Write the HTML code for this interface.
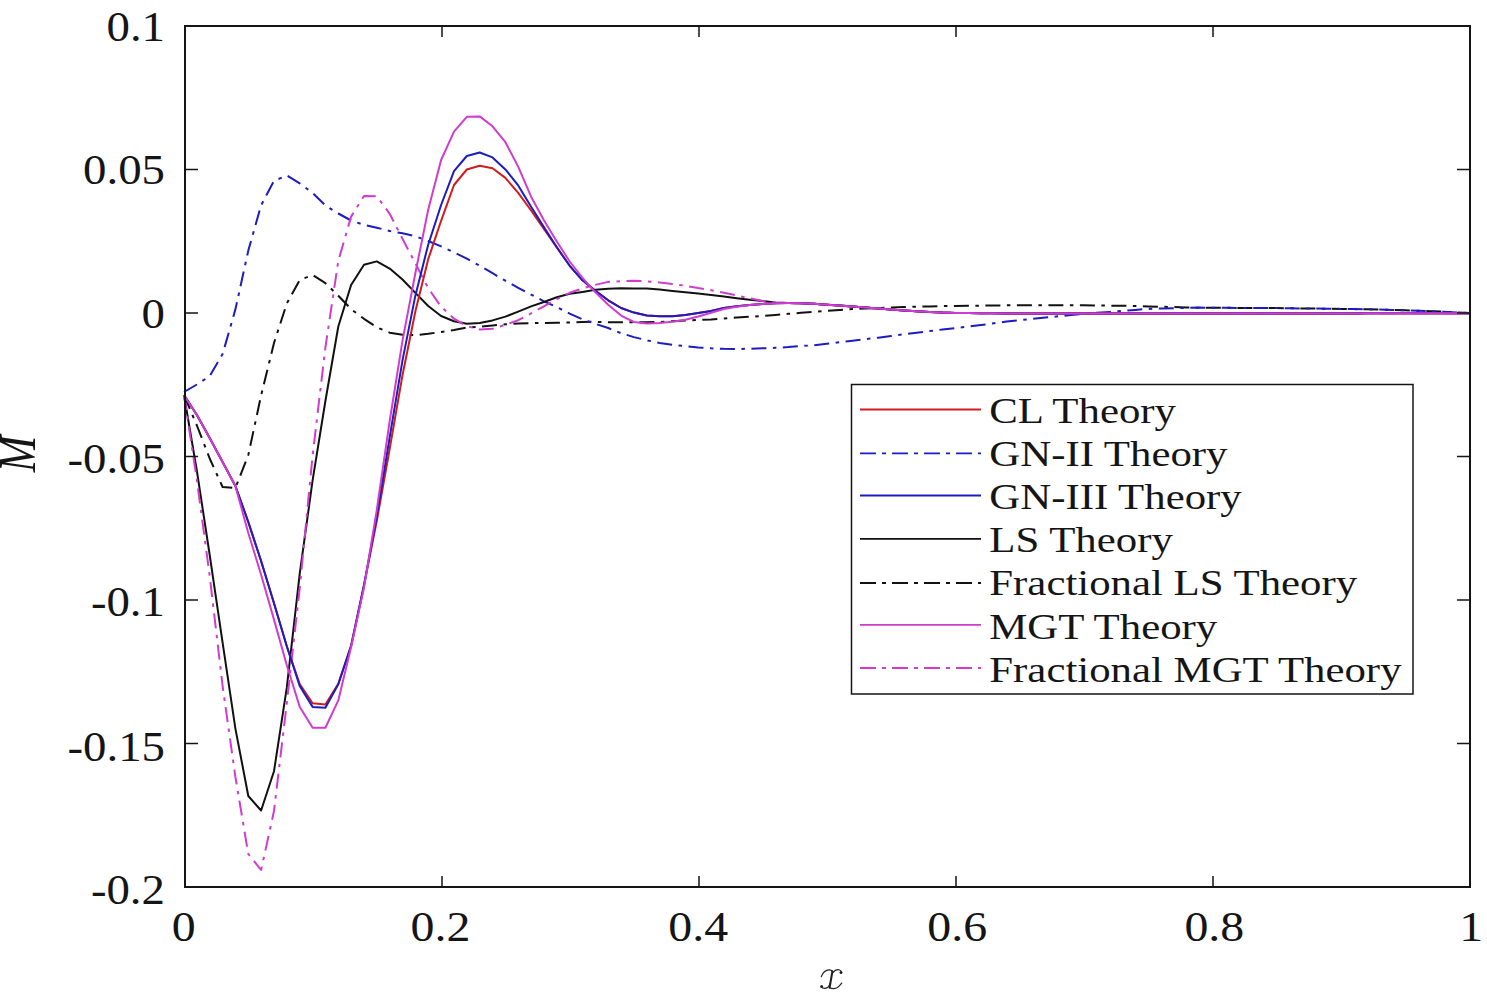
<!DOCTYPE html>
<html><head><meta charset="utf-8"><style>
html,body{margin:0;padding:0;background:#fff;width:1487px;height:996px;overflow:hidden}
svg{display:block}
text{font-family:"Liberation Serif",serif;fill:#151515}
</style></head><body>
<svg width="1487" height="996" viewBox="0 0 1487 996">
<g fill="none" stroke-width="2" stroke-linejoin="round" stroke-linecap="butt">
<path d="M184.0 395 196.9 425.5 209.7 458.5 222.6 487 235.4 488 248.3 455 261.1 395.5 274.0 343 286.8 303.5 299.7 280 312.6 275 325.4 283.1 338.3 295.7 351.1 309.1 364.0 318.8 376.8 327.3 389.7 332.7 402.5 334.7 415.4 335.2 428.2 333.8 441.1 331.9 454.0 330.1 466.8 327.6 479.7 326.7 492.5 325.5 505.4 324.3 518.2 323.6 531.1 323.2 543.9 322.9 556.8 322.7 569.7 322.4 582.5 322 595.4 321.8 608.2 322.3 621.1 322.3 633.9 322.3 646.8 322.3 659.6 322 672.5 321.2 685.3 320.5 698.2 320 711.1 319.5 723.9 318.5 736.8 317.4 749.6 316.8 762.5 316 775.3 314.9 788.2 313.8 801.0 312.8 813.9 311.9 826.8 310.9 839.6 309.9 852.5 309.1 865.3 308.6 878.2 308.1 891.0 307.6 903.9 307.1 916.7 306.7 929.6 306.4 942.4 306.1 955.3 305.9 968.2 305.8 981.0 305.6 993.9 305.5 1006.7 305.3 1019.6 305.3 1032.4 305.3 1045.3 305.3 1058.1 305.3 1071.0 305.3 1083.8 305.3 1096.7 305.5 1109.6 305.6 1122.4 305.8 1135.3 306 1148.1 306.4 1161.0 306.7 1173.8 307.1 1186.7 307.5 1199.5 307.7 1212.4 307.7 1225.3 307.8 1238.1 307.9 1251.0 308 1263.8 308.1 1276.7 308.1 1289.5 308.3 1302.4 308.4 1315.2 308.6 1328.1 308.8 1341.0 308.9 1353.8 309.1 1366.7 309.3 1379.5 309.5 1392.4 309.9 1405.2 310.3 1418.1 310.8 1430.9 311.2 1443.8 311.7 1456.6 312.4 1469.5 313" stroke="#111" stroke-dasharray="15 6.5 3.5 6.5"/>
<path d="M184.0 392 196.9 384.5 209.7 376.1 222.6 354.1 235.4 309.4 248.3 250.6 261.1 205.3 274.0 180.9 286.8 175.4 299.7 183.3 312.6 193 325.4 205.5 338.3 213.5 351.1 220.5 364.0 224.9 376.8 227.7 389.7 231 402.5 233.3 415.4 236.2 428.2 241 441.1 246.3 454.0 252.3 466.8 258.7 479.7 265.7 492.5 273.2 505.4 280.7 518.2 287.8 531.1 294.6 543.9 301.3 556.8 307.1 569.7 313.6 582.5 319.4 595.4 323.8 608.2 328 621.1 333.2 633.9 337.1 646.8 340.3 659.6 342.9 672.5 344.7 685.3 346.2 698.2 347.5 711.1 348.3 723.9 348.8 736.8 349 749.6 348.7 762.5 348.3 775.3 347.8 788.2 347.1 801.0 346.1 813.9 345.2 826.8 343.7 839.6 342.2 852.5 340.7 865.3 339.2 878.2 337.7 891.0 336 903.9 334.3 916.7 332.7 929.6 331.1 942.4 329.5 955.3 328.1 968.2 326.6 981.0 325 993.9 323.3 1006.7 321.5 1019.6 320.1 1032.4 318.9 1045.3 317.6 1058.1 316.3 1071.0 315 1083.8 313.8 1096.7 312.8 1109.6 311.9 1122.4 310.9 1135.3 309.9 1148.1 308.9 1161.0 308.5 1173.8 308.2 1186.7 307.9 1199.5 307.6 1212.4 307.7 1225.3 307.8 1238.1 307.9 1251.0 308 1263.8 308 1276.7 308.1 1289.5 308.3 1302.4 308.4 1315.2 308.6 1328.1 308.8 1341.0 308.9 1353.8 309.1 1366.7 309.3 1379.5 309.5 1392.4 309.9 1405.2 310.3 1418.1 310.8 1430.9 311.2 1443.8 311.7 1456.6 312.4 1469.5 313" stroke="#1c1cc0" stroke-dasharray="15 6.5 3.5 6.5"/>
<path d="M184.0 395 196.9 471 209.7 555 222.6 642.7 235.4 728.6 248.3 796 261.1 810.5 274.0 771.2 286.8 687.7 299.7 573.9 312.6 480.4 325.4 401 338.3 326.5 351.1 285 364.0 264.7 376.8 261.4 389.7 268.6 402.5 279.5 415.4 292.9 428.2 306 441.1 316 454.0 321.2 466.8 323.7 479.7 323.1 492.5 320.4 505.4 316.6 518.2 311.6 531.1 306.4 543.9 302 556.8 297.2 569.7 293.8 582.5 291.9 595.4 289.8 608.2 288.7 621.1 288.3 633.9 288.4 646.8 288.5 659.6 289.6 672.5 290.9 685.3 292.2 698.2 293.5 711.1 295.1 723.9 296.6 736.8 298.2 749.6 299.7 762.5 301.1 775.3 302.5 788.2 303.1 801.0 303.2 813.9 303.8 826.8 304.7 839.6 305.5 852.5 306.5 865.3 307.6 878.2 308.6 891.0 309.5 903.9 310.4 916.7 311.3 929.6 311.9 942.4 312.6 955.3 313 968.2 313.1 981.0 313.2 993.9 313.3 1006.7 313.4 1019.6 313.5 1032.4 313.5 1045.3 313.5 1058.1 313.5 1071.0 313.5 1083.8 313.5 1096.7 313.5 1109.6 313.5 1122.4 313.5 1135.3 313.5 1148.1 313.4 1161.0 313.4 1173.8 313.4 1186.7 313.4 1199.5 313.4 1212.4 313.4 1225.3 313.4 1238.1 313.4 1251.0 313.4 1263.8 313.4 1276.7 313.4 1289.5 313.4 1302.4 313.4 1315.2 313.4 1328.1 313.4 1341.0 313.4 1353.8 313.4 1366.7 313.3 1379.5 313.3 1392.4 313.3 1405.2 313.3 1418.1 313.3 1430.9 313.3 1443.8 313.3 1456.6 313.3 1469.5 313.3" stroke="#111"/>
<path d="M184.0 395 196.9 480 209.7 576 222.6 686 235.4 777 248.3 854 261.1 870 274.0 811 286.8 703 299.7 588.4 312.6 455.6 325.4 347.5 338.3 260.9 351.1 216.6 364.0 196 376.8 196.2 389.7 213.8 402.5 238.8 415.4 263.4 428.2 288.1 441.1 306.7 454.0 318.7 466.8 326.2 479.7 329.4 492.5 328.7 505.4 324.8 518.2 320.2 531.1 313.4 543.9 306.3 556.8 299.2 569.7 292.8 582.5 288.4 595.4 284.9 608.2 281.9 621.1 281.2 633.9 280.7 646.8 281.3 659.6 282.4 672.5 284 685.3 285.7 698.2 288.1 711.1 290.2 723.9 292.8 736.8 295.5 749.6 298.3 762.5 301 775.3 302.5 788.2 303.1 801.0 303.2 813.9 303.8 826.8 304.7 839.6 305.5 852.5 306.5 865.3 307.6 878.2 308.6 891.0 309.5 903.9 310.4 916.7 311.3 929.6 311.9 942.4 312.6 955.3 313 968.2 313.1 981.0 313.2 993.9 313.3 1006.7 313.4 1019.6 313.5 1032.4 313.5 1045.3 313.5 1058.1 313.5 1071.0 313.5 1083.8 313.5 1096.7 313.5 1109.6 313.5 1122.4 313.5 1135.3 313.5 1148.1 313.4 1161.0 313.4 1173.8 313.4 1186.7 313.4 1199.5 313.4 1212.4 313.4 1225.3 313.4 1238.1 313.4 1251.0 313.4 1263.8 313.4 1276.7 313.4 1289.5 313.4 1302.4 313.4 1315.2 313.4 1328.1 313.4 1341.0 313.4 1353.8 313.4 1366.7 313.3 1379.5 313.3 1392.4 313.3 1405.2 313.3 1418.1 313.3 1430.9 313.3 1443.8 313.3 1456.6 313.3 1469.5 313.3" stroke="#d03cd0" stroke-dasharray="15 6.5 3.5 6.5"/>
<path d="M184.0 395 196.9 415 209.7 438 222.6 462 235.4 486 248.3 522 261.1 561 274.0 603.2 286.8 646.2 299.7 684 312.6 703.3 325.4 704.5 338.3 683.8 351.1 645.7 364.0 585.2 376.8 520.8 389.7 448.7 402.5 375.2 415.4 311.2 428.2 259.3 441.1 220.8 454.0 185 466.8 169.5 479.7 165.7 492.5 168.2 505.4 177.9 518.2 192.9 531.1 210.5 543.9 229 556.8 247.3 569.7 265.8 582.5 280.3 595.4 290.8 608.2 300.3 621.1 308 633.9 312.6 646.8 315.4 659.6 316.3 672.5 316.3 685.3 315 698.2 313.1 711.1 311 723.9 308 736.8 306.2 749.6 305 762.5 303.9 775.3 303.2 788.2 303.1 801.0 303.2 813.9 303.8 826.8 304.7 839.6 305.5 852.5 306.5 865.3 307.6 878.2 308.6 891.0 309.5 903.9 310.4 916.7 311.3 929.6 311.9 942.4 312.6 955.3 313 968.2 313.1 981.0 313.2 993.9 313.3 1006.7 313.4 1019.6 313.5 1032.4 313.5 1045.3 313.5 1058.1 313.5 1071.0 313.5 1083.8 313.5 1096.7 313.5 1109.6 313.5 1122.4 313.5 1135.3 313.5 1148.1 313.4 1161.0 313.4 1173.8 313.4 1186.7 313.4 1199.5 313.4 1212.4 313.4 1225.3 313.4 1238.1 313.4 1251.0 313.4 1263.8 313.4 1276.7 313.4 1289.5 313.4 1302.4 313.4 1315.2 313.4 1328.1 313.4 1341.0 313.4 1353.8 313.4 1366.7 313.3 1379.5 313.3 1392.4 313.3 1405.2 313.3 1418.1 313.3 1430.9 313.3 1443.8 313.3 1456.6 313.3 1469.5 313.3" stroke="#d01c1c"/>
<path d="M184.0 395 196.9 415 209.7 438 222.6 462 235.4 486 248.3 522 261.1 561 274.0 603.2 286.8 646.2 299.7 686 312.6 706.9 325.4 707.7 338.3 684.3 351.1 645.7 364.0 585.2 376.8 516.2 389.7 437.2 402.5 360.4 415.4 295.4 428.2 244.7 441.1 205 454.0 171.2 466.8 156 479.7 152.5 492.5 157.4 505.4 169.4 518.2 185.4 531.1 206.8 543.9 227.1 556.8 247.3 569.7 265.8 582.5 280.3 595.4 290.8 608.2 300.3 621.1 308 633.9 312.6 646.8 315.4 659.6 316.3 672.5 316.3 685.3 315 698.2 313.1 711.1 311 723.9 308 736.8 306.2 749.6 305 762.5 303.9 775.3 303.2 788.2 303.1 801.0 303.2 813.9 303.8 826.8 304.7 839.6 305.5 852.5 306.5 865.3 307.6 878.2 308.6 891.0 309.5 903.9 310.4 916.7 311.3 929.6 311.9 942.4 312.6 955.3 313 968.2 313.1 981.0 313.2 993.9 313.3 1006.7 313.4 1019.6 313.5 1032.4 313.5 1045.3 313.5 1058.1 313.5 1071.0 313.5 1083.8 313.5 1096.7 313.5 1109.6 313.5 1122.4 313.5 1135.3 313.5 1148.1 313.4 1161.0 313.4 1173.8 313.4 1186.7 313.4 1199.5 313.4 1212.4 313.4 1225.3 313.4 1238.1 313.4 1251.0 313.4 1263.8 313.4 1276.7 313.4 1289.5 313.4 1302.4 313.4 1315.2 313.4 1328.1 313.4 1341.0 313.4 1353.8 313.4 1366.7 313.3 1379.5 313.3 1392.4 313.3 1405.2 313.3 1418.1 313.3 1430.9 313.3 1443.8 313.3 1456.6 313.3 1469.5 313.3" stroke="#1c1cc0"/>
<path d="M184.0 395 196.9 415 209.7 438 222.6 462 235.4 486 248.3 533 261.1 574.7 274.0 619.6 286.8 665.2 299.7 706.7 312.6 727.8 325.4 727.8 338.3 700.4 351.1 647.1 364.0 587.7 376.8 510 389.7 421 402.5 340.6 415.4 273 428.2 209.7 441.1 160 454.0 131.6 466.8 116.8 479.7 116.4 492.5 126.3 505.4 142.2 518.2 166.6 531.1 196.7 543.9 220.3 556.8 241.5 569.7 261.5 582.5 277.8 595.4 292.3 608.2 304.7 621.1 315.6 633.9 322 646.8 323.5 659.6 323 672.5 321.7 685.3 319.7 698.2 316.5 711.1 312.7 723.9 309 736.8 306.7 749.6 305 762.5 303.9 775.3 303.2 788.2 303.1 801.0 303.2 813.9 303.8 826.8 304.7 839.6 305.5 852.5 306.5 865.3 307.6 878.2 308.6 891.0 309.5 903.9 310.4 916.7 311.3 929.6 311.9 942.4 312.6 955.3 313 968.2 313.1 981.0 313.2 993.9 313.3 1006.7 313.4 1019.6 313.5 1032.4 313.5 1045.3 313.5 1058.1 313.5 1071.0 313.5 1083.8 313.5 1096.7 313.5 1109.6 313.5 1122.4 313.5 1135.3 313.5 1148.1 313.4 1161.0 313.4 1173.8 313.4 1186.7 313.4 1199.5 313.4 1212.4 313.4 1225.3 313.4 1238.1 313.4 1251.0 313.4 1263.8 313.4 1276.7 313.4 1289.5 313.4 1302.4 313.4 1315.2 313.4 1328.1 313.4 1341.0 313.4 1353.8 313.4 1366.7 313.3 1379.5 313.3 1392.4 313.3 1405.2 313.3 1418.1 313.3 1430.9 313.3 1443.8 313.3 1456.6 313.3 1469.5 313.3" stroke="#d03cd0"/>
</g>
<path d="M442.0 887.0V876.0M442.0 26.0V37.0M699.0 887.0V876.0M699.0 26.0V37.0M956.0 887.0V876.0M956.0 26.0V37.0M1213.0 887.0V876.0M1213.0 26.0V37.0M185.0 169.5H198.0M1470.0 169.5H1457.0M185.0 313.0H198.0M1470.0 313.0H1457.0M185.0 456.5H198.0M1470.0 456.5H1457.0M185.0 600.0H198.0M1470.0 600.0H1457.0M185.0 743.5H198.0M1470.0 743.5H1457.0" stroke="#151515" stroke-width="1.5" fill="none"/>
<rect x="185.0" y="26.0" width="1285.0" height="861.0" fill="none" stroke="#151515" stroke-width="2"/>
<text transform="translate(183.8,940.5) scale(1.14,1)" font-size="42" text-anchor="middle">0</text>
<text transform="translate(440.5,940.5) scale(1.14,1)" font-size="42" text-anchor="middle">0.2</text>
<text transform="translate(698.2,940.5) scale(1.14,1)" font-size="42" text-anchor="middle">0.4</text>
<text transform="translate(957.2,940.5) scale(1.14,1)" font-size="42" text-anchor="middle">0.6</text>
<text transform="translate(1214.3,940.5) scale(1.14,1)" font-size="42" text-anchor="middle">0.8</text>
<text transform="translate(1471.2,940.5) scale(1.14,1)" font-size="42" text-anchor="middle">1</text>
<text transform="translate(165,41.00) scale(1.115,1)" font-size="42" text-anchor="end">0.1</text>
<text transform="translate(165,184.10) scale(1.115,1)" font-size="42" text-anchor="end">0.05</text>
<text transform="translate(165,328.40) scale(1.115,1)" font-size="42" text-anchor="end">0</text>
<text transform="translate(165,473.20) scale(1.115,1)" font-size="42" text-anchor="end">-0.05</text>
<text transform="translate(165,616.20) scale(1.115,1)" font-size="42" text-anchor="end">-0.1</text>
<text transform="translate(165,760.80) scale(1.115,1)" font-size="42" text-anchor="end">-0.15</text>
<text transform="translate(165,903.80) scale(1.115,1)" font-size="42" text-anchor="end">-0.2</text>
<g fill="none" stroke="#222" stroke-linecap="round"><path d="M832.4 971.4L829.6 987.6" stroke-width="2.1"/><path d="M821.3 976.6C822.6 972.4 826.2 969.4 829.6 969.8C831.1 970 832 970.9 832.4 971.8" stroke-width="1.25"/><path d="M832.9 972.6C834.6 970.4 837.6 969.4 839.6 970C840.9 970.4 841.4 971.6 841.3 972.9" stroke-width="1.25"/><path d="M821.3 986.8C822.6 988.8 826.6 988.9 828.6 986.6C829.3 985.6 829.6 984.6 829.8 983.6" stroke-width="1.25"/><path d="M829.6 987.4C831.6 989 836.1 989.1 838.6 986.6C840.1 985.1 841 984 841.7 983.1" stroke-width="1.25"/></g><circle cx="841" cy="972.6" r="1.5" fill="#222"/><circle cx="821.6" cy="986.4" r="1.5" fill="#222"/>
<text transform="translate(35.4,454) rotate(-90) scale(1,1.2)" font-size="44" font-style="italic" text-anchor="middle">M</text>
<rect x="851.5" y="384.5" width="561.5" height="309.5" fill="#fff" stroke="#151515" stroke-width="1.5"/>
<path d="M860 409.5H981" stroke="#d01c1c" stroke-width="1.8"/>
<text transform="translate(989.3,422.6) scale(1.19,1)" font-size="36">CL Theory</text>
<path d="M860 453.3H981" stroke="#1c1cc0" stroke-width="1.8" stroke-dasharray="16 6 4 6"/>
<text transform="translate(989.3,465.8) scale(1.19,1)" font-size="36">GN-II Theory</text>
<path d="M860 495.5H981" stroke="#1c1cc0" stroke-width="1.8"/>
<text transform="translate(989.3,509.0) scale(1.19,1)" font-size="36">GN-III Theory</text>
<path d="M860 538.8H981" stroke="#111" stroke-width="1.8"/>
<text transform="translate(989.3,552.2) scale(1.19,1)" font-size="36">LS Theory</text>
<path d="M860 583.0H981" stroke="#111" stroke-width="1.8" stroke-dasharray="16 6 4 6"/>
<text transform="translate(989.3,595.4) scale(1.19,1)" font-size="36">Fractional LS Theory</text>
<path d="M860 624.8H981" stroke="#d03cd0" stroke-width="1.8"/>
<text transform="translate(989.3,638.6) scale(1.19,1)" font-size="36">MGT Theory</text>
<path d="M860 668.0H981" stroke="#d03cd0" stroke-width="1.8" stroke-dasharray="16 6 4 6"/>
<text transform="translate(989.3,681.8) scale(1.19,1)" font-size="36">Fractional MGT Theory</text>
</svg></body></html>
